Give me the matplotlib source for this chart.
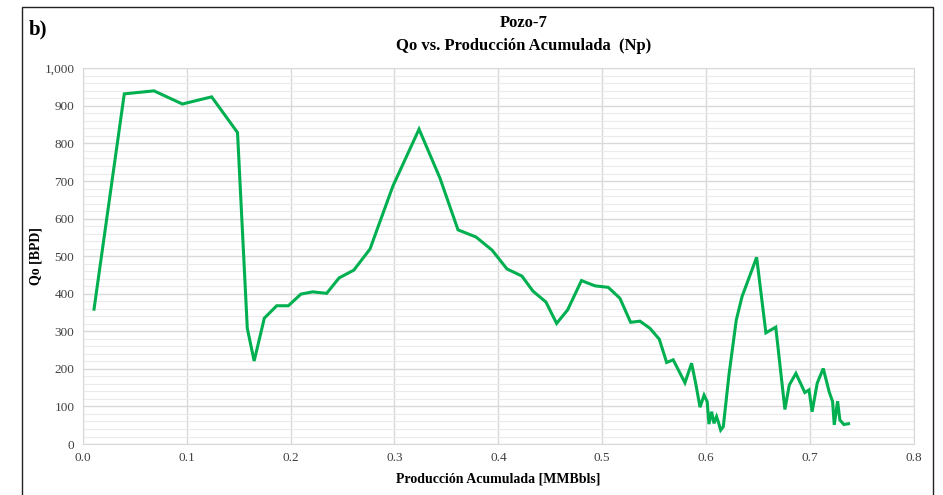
import matplotlib.pyplot as plt
from matplotlib.ticker import MultipleLocator, FuncFormatter
from matplotlib.patches import Rectangle

# Pozo-7: Qo vs produccion acumulada
np_acum = [0.0109, 0.0400, 0.0686, 0.0959, 0.1241, 0.1490, 0.1584, 0.1650, 0.1748,
           0.1867, 0.1979, 0.2100, 0.2213, 0.2348, 0.2467, 0.2610, 0.2765, 0.2986,
           0.3237, 0.3438, 0.3612, 0.3785, 0.3940, 0.4083, 0.4227, 0.4333, 0.4458,
           0.4561, 0.4667, 0.4800, 0.4930, 0.5058, 0.5170, 0.5273, 0.5363, 0.5459,
           0.5549, 0.5620, 0.5683, 0.5796, 0.5860, 0.5899, 0.5941, 0.5980, 0.6010,
           0.6027, 0.6053, 0.6075, 0.6100, 0.6117, 0.6140, 0.6165, 0.6220, 0.6290,
           0.6345, 0.6486, 0.6575, 0.6670, 0.6758, 0.6800, 0.6864, 0.6950, 0.6990,
           0.7020, 0.7069, 0.7127, 0.7184, 0.7217, 0.7233, 0.7265, 0.7287, 0.7325,
           0.7370]
qo = [359, 932, 940, 905, 924, 829, 308, 221, 335,
      368, 368, 399, 405, 401, 442, 463, 519, 687,
      838, 708, 570, 551, 516, 466, 447, 407, 378,
      321, 357, 435, 421, 417, 388, 324, 327, 308,
      279, 217, 224, 163, 215, 162, 98, 130, 113,
      53, 86, 55, 73, 59, 37, 46, 185, 330,
      392, 497, 296, 311, 92, 157, 188, 137, 144,
      86, 162, 201, 139, 113, 51, 114, 64, 52,
      54]

plt.rcParams['font.family'] = ['Liberation Serif', 'DejaVu Serif']

fig = plt.figure(figsize=(9.43, 4.95), dpi=100)
ax = fig.add_axes([0.0877, 0.103, 0.8815, 0.759])

ax.plot(np_acum, qo, color="#00B050", lw=2.2, solid_joinstyle="miter")

ax.set_xlim(0, 0.8)
ax.set_ylim(0, 1000)
ax.xaxis.set_major_locator(MultipleLocator(0.1))
ax.yaxis.set_major_locator(MultipleLocator(100))
ax.yaxis.set_minor_locator(MultipleLocator(20))
ax.xaxis.set_major_formatter(FuncFormatter(lambda v, p: f"{v:.1f}"))
ax.yaxis.set_major_formatter(FuncFormatter(lambda v, p: f"{int(v):,}"))

ax.grid(True, which="major", color="#D9D9D9", lw=1.0)
ax.grid(True, which="minor", axis="y", color="#EBEBEB", lw=0.8)
ax.set_axisbelow(True)
for s in ax.spines.values():
    s.set_color("#D9D9D9")
ax.tick_params(which="both", length=0, labelsize=9.5, colors="#404040", pad=6)

ax.set_xlabel("Producción Acumulada [MMBbls]", fontsize=10, fontweight="bold", labelpad=6)
ax.set_ylabel("Qo [BPD]", fontsize=10, fontweight="bold", labelpad=1)

fig.text(0.555, 0.953, "Pozo-7", ha="center", va="center", fontsize=12, fontweight="bold")
fig.text(0.555, 0.907, "Qo vs. Producción Acumulada  (Np)", ha="center", va="center",
         fontsize=12, fontweight="bold")
fig.text(0.03, 0.94, "b)", ha="left", va="center", fontsize=15, fontweight="bold")

# marco negro de la figura
fig.patches.append(Rectangle((0.023, -0.05), 0.966, 1.035, transform=fig.transFigure,
                             fill=False, edgecolor="#222222", lw=1.0))

fig.savefig("out.png", dpi=100)
